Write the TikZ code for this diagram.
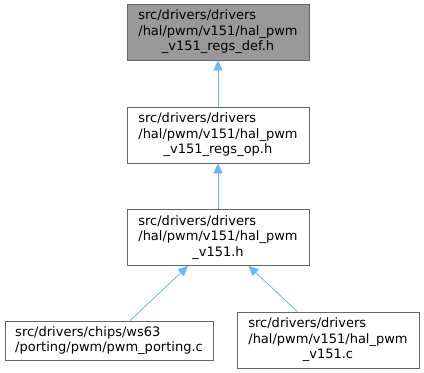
\documentclass[tikz,border=0pt]{standalone}
\usepackage{fontspec}
\setmainfont{DejaVu Sans}
\usepackage{xcolor}
\usetikzlibrary{arrows.meta}
\definecolor{edgeblue}{HTML}{63B8FF}
\definecolor{boxline}{HTML}{666666}
\definecolor{boxgray}{HTML}{999999}
\newcommand{\halname}[1]{\begin{tabular}{@{}l@{}}src/drivers/drivers\\/hal/pwm/v151/hal\_pwm\\\multicolumn{1}{@{}c@{}}{#1}\end{tabular}}
\begin{document}
\begin{tikzpicture}[x=1pt,y=-1pt,
  file/.style={draw=boxline,line width=0.8pt,fill=white,inner sep=0pt,
    minimum width=182pt,minimum height=56pt,align=center,
    font=\fontsize{13}{15.5}\selectfont},
  include/.style={draw=edgeblue,line width=0.8pt,
    {Triangle[length=10pt,width=9pt]}-}]
\useasboundingbox (0,0) rectangle (424,373);
\node[file,fill=boxgray](def) at (218,32){\halname{\_v151\_regs\_def.h}};
\node[file](op) at (218,135){\halname{\_v151\_regs\_op.h}};
\node[file](vh) at (218,237.5){\halname{\_v151.h}};
\node[file,minimum width=208pt,minimum height=39pt,align=left](port) at (109,340.5){src/drivers/chips/ws63\\/porting/pwm/pwm\_porting.c};
\node[file](vc) at (328,340){\halname{\_v151.c}};
\draw[include](def)--(op);
\draw[include](op)--(vh);
\draw[include](vh)--(port);
\draw[include](vh)--(vc);
\end{tikzpicture}
\end{document}
